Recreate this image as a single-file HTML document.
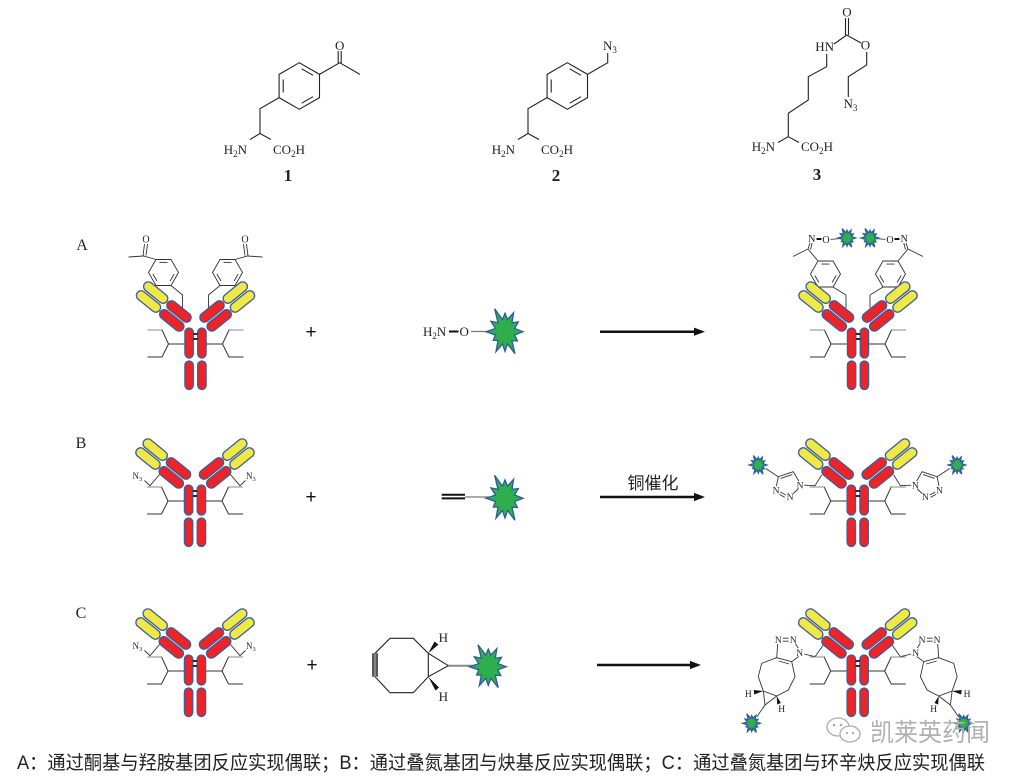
<!DOCTYPE html>
<html><head><meta charset="utf-8"><style>
html,body{margin:0;padding:0;background:#fff;}
svg{display:block;}
.s{font-family:"Liberation Serif","DejaVu Serif",serif;fill:#222;}
.pr{fill:#ec2428;stroke:#3e5c9a;stroke-width:1.3;}
.py{fill:#efe946;stroke:#3e5c9a;stroke-width:1.3;}
.ln{fill:none;stroke:#333;stroke-width:0.9;}
.tl{fill:none;stroke:#222;stroke-width:1.1;}
</style></head><body>
<svg xmlns="http://www.w3.org/2000/svg" width="1026" height="776" viewBox="0 0 1026 776">
<defs>
<polygon id="star" points="10,0 5.31,1.42 6.93,4 3.89,3.89 5.5,9.53 1.42,5.31 0,8.5 -1.42,5.31 -5,8.66 -3.89,3.89 -6.5,3.75 -5.31,1.42 -10.5,0 -5.31,-1.42 -7.79,-4.5 -3.89,-3.89 -5.75,-9.96 -1.42,-5.31 0,-8 1.42,-5.31 4.75,-8.23 3.89,-3.89 7.36,-4.25 5.31,-1.42" fill="#2fae4e" stroke="#2d5a9c" stroke-width="1.3" vector-effect="non-scaling-stroke"/>
<g id="ring" fill="none" stroke="#333" stroke-width="0.9">
 <polygon points="15,0 7.5,13 -7.5,13 -15,0 -7.5,-13 7.5,-13"/>
 <path d="M10.64,1.49 L6.61,8.47 M-6.61,8.47 L-10.64,1.49 M-4.03,-9.96 L4.03,-9.96"/>
</g>
<g id="arm">
 <rect class="py" x="-14.25" y="-4.75" width="28.5" height="9.5" rx="4.75" transform="translate(-39.8,-35.4) rotate(39)"/>
 <rect class="py" x="-14.25" y="-4.75" width="28.5" height="9.5" rx="4.75" transform="translate(-47,-26.5) rotate(39)"/>
 <rect class="pr" x="-14.25" y="-4.75" width="28.5" height="9.5" rx="4.75" transform="translate(-16.5,-16.5) rotate(39)"/>
 <rect class="pr" x="-14.25" y="-4.75" width="28.5" height="9.5" rx="4.75" transform="translate(-23.7,-7.6) rotate(39)"/>
</g>
<g id="ab">
 <path d="M-10.5,16H-27L-33.5,2H-48M-27,16L-33.5,29H-48M10.5,16H27L33.5,2H48M27,16L33.5,29H48" fill="none" stroke="#333" stroke-width="1"/>
 <path d="M-33.5,2H-48M33.5,2H48" fill="none" stroke="#888" stroke-width="1"/>
 <use href="#arm"/>
 <use href="#arm" transform="scale(-1,1)"/>
 <rect class="pr" x="-10.6" y="0" width="8.4" height="30" rx="4.2"/>
 <rect class="pr" x="2.2" y="0" width="8.4" height="30" rx="4.2"/>
 <rect class="pr" x="-10.6" y="33" width="8.4" height="28.5" rx="4.2"/>
 <rect class="pr" x="2.2" y="33" width="8.4" height="28.5" rx="4.2"/>
 <path d="M-2.2,6H2.2M-2.2,11H2.2" stroke="#111" stroke-width="1.8"/>
</g>
</defs>

<!-- ===== Top structures ===== -->
<!-- Compound 1 -->
<g class="tl">
 <polygon points="299.3,62.7 319.5,74.35 319.5,97.65 299.3,109.3 279.1,97.65 279.1,74.35"/>
 <path d="M301.7,68.8L313,75.3M313,96.7L301.7,103.2M283.2,92.5L283.2,79.5"/>
 <path d="M319.5,74.35L339.7,62.7L359.9,74.35M338.2,63L338.2,51M341.2,63.5L341.2,51"/>
 <path d="M279.1,97.65L260,108.7L260,133.5M260,133.5L250,139.5M260,133.5L271,139.5"/>
</g>
<text class="s" x="339.7" y="50" font-size="13" text-anchor="middle">O</text>
<text class="s" x="247" y="154" font-size="13" text-anchor="end">H<tspan font-size="9" dy="3">2</tspan><tspan dy="-3">N</tspan></text>
<text class="s" x="273" y="154" font-size="13">CO<tspan font-size="9" dy="3">2</tspan><tspan dy="-3">H</tspan></text>
<text class="s" x="288" y="181" font-size="17" font-weight="bold" text-anchor="middle">1</text>

<!-- Compound 2 -->
<g class="tl">
 <polygon points="567.3,62.7 587.5,74.35 587.5,97.65 567.3,109.3 547.1,97.65 547.1,74.35"/>
 <path d="M569.7,68.8L581,75.3M581,96.7L569.7,103.2M551.2,92.5L551.2,79.5"/>
 <path d="M587.5,74.35L607.7,62.7L607.7,53"/>
 <path d="M547.1,97.65L528,108.7L528,133.5M528,133.5L518,139.5M528,133.5L539,139.5"/>
</g>
<text class="s" x="603" y="50" font-size="13">N<tspan font-size="9" dy="3">3</tspan></text>
<text class="s" x="515" y="154" font-size="13" text-anchor="end">H<tspan font-size="9" dy="3">2</tspan><tspan dy="-3">N</tspan></text>
<text class="s" x="541" y="154" font-size="13">CO<tspan font-size="9" dy="3">2</tspan><tspan dy="-3">H</tspan></text>
<text class="s" x="556" y="181" font-size="17" font-weight="bold" text-anchor="middle">2</text>

<!-- Compound 3 -->
<g class="tl">
 <path d="M788.3,136.7L778,142.5M788.3,136.7L799,142.5"/>
 <path d="M788.3,136.7L788.3,113.3L808.3,100L808.3,76.7L826.7,66.7L826.7,54"/>
 <path d="M834,44L846.7,35L861,43M845.5,35L845.5,18M848.5,35L848.5,18"/>
 <path d="M866.7,52L866.7,65L848.3,76.7L848.3,97"/>
</g>
<text class="s" x="834" y="51" font-size="13" text-anchor="end">HN</text>
<text class="s" x="847" y="16.5" font-size="13" text-anchor="middle">O</text>
<text class="s" x="865.5" y="49.5" font-size="13" text-anchor="middle">O</text>
<text class="s" x="843.5" y="108" font-size="13">N<tspan font-size="9" dy="3">3</tspan></text>
<text class="s" x="775" y="151" font-size="13" text-anchor="end">H<tspan font-size="9" dy="3">2</tspan><tspan dy="-3">N</tspan></text>
<text class="s" x="801" y="151" font-size="13">CO<tspan font-size="9" dy="3">2</tspan><tspan dy="-3">H</tspan></text>
<text class="s" x="817" y="180" font-size="17" font-weight="bold" text-anchor="middle">3</text>

<!-- Row labels -->
<text class="s" x="82" y="250" font-size="16" text-anchor="middle">A</text>
<text class="s" x="81" y="448" font-size="16" text-anchor="middle">B</text>
<text class="s" x="81" y="618" font-size="16" text-anchor="middle">C</text>

<!-- plus signs -->
<text x="311" y="338" font-size="19" text-anchor="middle" font-family="Liberation Sans, sans-serif" fill="#111">+</text>
<text x="311" y="503" font-size="19" text-anchor="middle" font-family="Liberation Sans, sans-serif" fill="#111">+</text>
<text x="312" y="671" font-size="19" text-anchor="middle" font-family="Liberation Sans, sans-serif" fill="#111">+</text>

<!-- arrows -->
<g fill="#111" stroke="#111">
 <line x1="600" y1="331.7" x2="696" y2="331.7" stroke-width="2.5"/>
 <polygon points="705,331.7 694,327.6 694,335.8" stroke="none"/>
 <line x1="600" y1="497" x2="696" y2="497" stroke-width="2.5"/>
 <polygon points="705,497 694,492.9 694,501.1" stroke="none"/>
 <line x1="597" y1="665" x2="692" y2="665" stroke-width="2.5"/>
 <polygon points="701,665 690,660.9 690,669.1" stroke="none"/>
</g>
<text x="653" y="489" font-size="17" text-anchor="middle" font-family="Liberation Sans, 'Noto Sans CJK SC', sans-serif" fill="#222">铜催化</text>

<!-- ===== Row A ===== -->
<g transform="translate(195.5,328)">
 <g id="aL" class="ln">
  <use href="#ring" x="-32" y="-55.5"/>
  <path d="M-39.5,-68.5L-52,-72L-67,-71M-52.5,-72L-51,-84M-49.5,-72.5L-48,-84M-24.5,-42.5L-13,-33L-13,-20"/>
 </g>
 <use href="#aL" transform="scale(-1,1)"/>
 <text class="s" x="-49.5" y="-85.5" font-size="10" text-anchor="middle">O</text>
 <text class="s" x="49.5" y="-85.5" font-size="10" text-anchor="middle">O</text>
 <use href="#ab"/>
</g>

<text class="s" x="423" y="336" font-size="13">H<tspan font-size="9" dy="3">2</tspan><tspan dy="-3">N</tspan></text>
<line x1="449" y1="331.5" x2="458.5" y2="331.5" stroke="#111" stroke-width="2"/>
<text class="s" x="459.5" y="336" font-size="13">O</text>
<line x1="471" y1="331.5" x2="489" y2="331.5" stroke="#777" stroke-width="1.2"/>
<use href="#star" transform="translate(505,331.7) scale(1.8,2.3)"/>

<g transform="translate(858,328)">
 <g id="pL">
  <g class="ln">
   <use href="#ring" x="-32.5" y="-54"/>
   <path d="M-40,-67L-50,-79L-65,-71.5M-50,-79L-48,-85M-47.5,-78.5L-45.8,-85M-25,-41L-12,-33L-12,-20"/>
  </g>
  <path d="M-41.5,-89H-36.5" stroke="#111" stroke-width="2"/>
  <path d="M-27.5,-88.5L-19,-89.5" stroke="#777" stroke-width="1.2"/>
 </g>
 <use href="#pL" transform="scale(-1,1)"/>
 <use href="#star" transform="translate(-11,-90) scale(0.85,0.95)"/>
 <use href="#star" transform="translate(12,-90) scale(0.85,0.95)"/>
 <text class="s" x="-46.3" y="-86" font-size="10" text-anchor="middle">N</text>
 <text class="s" x="-32" y="-85" font-size="10" text-anchor="middle">O</text>
 <text class="s" x="46.3" y="-86" font-size="10" text-anchor="middle">N</text>
 <text class="s" x="32" y="-85" font-size="10" text-anchor="middle">O</text>
 <use href="#ab"/>
</g>

<!-- ===== Row B ===== -->
<g transform="translate(195,485)">
 <g id="bL"><path class="ln" d="M-35,-11L-45,0.7L-50.5,-4.5"/></g>
 <use href="#bL" transform="scale(-1,1)"/>
 <text class="s" x="-62.5" y="-6" font-size="9">N<tspan font-size="6.5" dy="2">3</tspan></text>
 <text class="s" x="51" y="-6" font-size="9">N<tspan font-size="6.5" dy="2">3</tspan></text>
 <use href="#ab"/>
</g>

<line x1="441.7" y1="494.8" x2="465" y2="494.8" stroke="#111" stroke-width="2"/>
<line x1="441.7" y1="498.4" x2="465" y2="498.4" stroke="#111" stroke-width="2"/>
<line x1="465" y1="497" x2="489" y2="497" stroke="#777" stroke-width="1.2"/>
<use href="#star" transform="translate(505,498.3) scale(1.8,2.3)"/>

<g transform="translate(857.7,485)">
 <g id="tL" class="ln">
  <path d="M-36,-10L-42.7,0.7L-53.5,0.2M-59,-4L-64.4,-13.3L-79.4,-8.3L-81.3,1M-65.5,-10.4L-77,-6.6M-64.5,8.5L-59.5,4M-79.4,-8.3L-92,-16.5M-77.5,7L-72,10M-78.3,9.4L-72.8,12.4"/>
 </g>
 <use href="#tL" transform="scale(-1,1)"/>
 <use href="#star" transform="translate(-99.4,-20) scale(0.85,0.95)"/>
 <use href="#star" transform="translate(99.4,-20) scale(0.85,0.95)"/>
 <g class="s" font-size="9.5" text-anchor="middle">
  <text x="-57.7" y="3.3">N</text><text x="-67.7" y="15">N</text><text x="-81.7" y="8.3">N</text>
  <text x="57.7" y="3.3">N</text><text x="67.7" y="15">N</text><text x="81.7" y="8.3">N</text>
 </g>
 <use href="#ab"/>
</g>

<!-- ===== Row C ===== -->
<g transform="translate(195,655)">
 <use href="#bL"/>
 <use href="#bL" transform="scale(-1,1)"/>
 <text class="s" x="-62.5" y="-6" font-size="9">N<tspan font-size="6.5" dy="2">3</tspan></text>
 <text class="s" x="51" y="-6" font-size="9">N<tspan font-size="6.5" dy="2">3</tspan></text>
 <use href="#ab"/>
</g>

<g fill="none" stroke="#222" stroke-width="1.1">
 <polygon points="375,653.3 390,638.3 413.3,638.3 428.3,653.3 428.3,676.7 413.3,692.7 390,692.7 375,676.7"/>
 <path d="M428.3,653.3L448.3,665.7L428.3,676.7"/>
 <path d="M373,653.3V676.7M377,653.3V676.7" stroke="#111" stroke-width="1.4"/>
</g>
<line x1="448.3" y1="665.7" x2="473" y2="665.7" stroke="#888" stroke-width="2"/>
<polygon points="428.3,653.3 434.5,641.5 438.5,644.5" fill="#111"/>
<polygon points="428.3,676.7 435.5,690.5 439,687.5" fill="#111"/>
<text class="s" x="443.3" y="642" font-size="13" text-anchor="middle">H</text>
<text class="s" x="443.3" y="701" font-size="13" text-anchor="middle">H</text>
<use href="#star" transform="translate(488.3,666.7) scale(1.8,2.2)"/>

<g transform="translate(857.7,655)">
 <g id="cL">
  <path class="ln" d="M-34.4,-10L-42.7,1.7L-53.5,-1M-59.5,-7L-62.5,-11.5M-69,-16.8H-75M-69,-13.8H-75M-80,-11L-81,2.7M-59,1.5L-66,6.7M-81,2.7L-66,6.7M-79,6L-68.5,9M-81,2.7L-96,8.3L-99.4,21.7L-94.4,36L-81,41L-69.4,35L-62.7,21.7L-66,6.7M-94.4,36L-92.7,50L-81,41M-92.7,50L-101,62"/>
  <polygon points="-94.4,36 -104,35 -103.5,39.5" fill="#111"/>
  <polygon points="-81,41 -80.5,49.5 -76.8,48" fill="#111"/>
 </g>
 <use href="#cL" transform="scale(-1,1)"/>
 <use href="#star" transform="translate(-106,68.3) scale(0.85,0.95)"/>
 <use href="#star" transform="translate(106,68.3) scale(0.85,0.95)"/>
 <g class="s" font-size="9.5" text-anchor="middle">
  <text x="-58" y="0.8">N</text><text x="-64.4" y="-12">N</text><text x="-79.4" y="-12">N</text>
  <text x="58" y="0.8">N</text><text x="64.4" y="-12">N</text><text x="79.4" y="-12">N</text>
  <text x="-109.4" y="42">H</text><text x="-76" y="57">H</text>
  <text x="109.4" y="42">H</text><text x="76" y="57">H</text>
 </g>
 <use href="#ab"/>
</g>

<!-- watermark -->
<g fill="none" stroke="#aaa" stroke-width="1.3">
 <ellipse cx="838" cy="727" rx="11" ry="9"/>
 <ellipse cx="850" cy="734" rx="10" ry="8" fill="#fff"/>
</g>
<g fill="#aaa"><circle cx="834" cy="725" r="1.3"/><circle cx="841" cy="725" r="1.3"/><circle cx="847" cy="733" r="1.1"/><circle cx="853" cy="733" r="1.1"/></g>
<text x="870" y="741" font-size="25" textLength="120" lengthAdjust="spacingAndGlyphs" font-family="Liberation Sans, 'Noto Sans CJK SC', sans-serif" fill="#b0b0b0">凯莱英药闻</text>

<!-- caption -->
<text x="17" y="769" font-size="19" textLength="968" lengthAdjust="spacingAndGlyphs" font-family="Liberation Sans, 'Noto Sans CJK SC', sans-serif" fill="#222">A：通过酮基与羟胺基团反应实现偶联；B：通过叠氮基团与炔基反应实现偶联；C：通过叠氮基团与环辛炔反应实现偶联</text>
</svg>
</body></html>
